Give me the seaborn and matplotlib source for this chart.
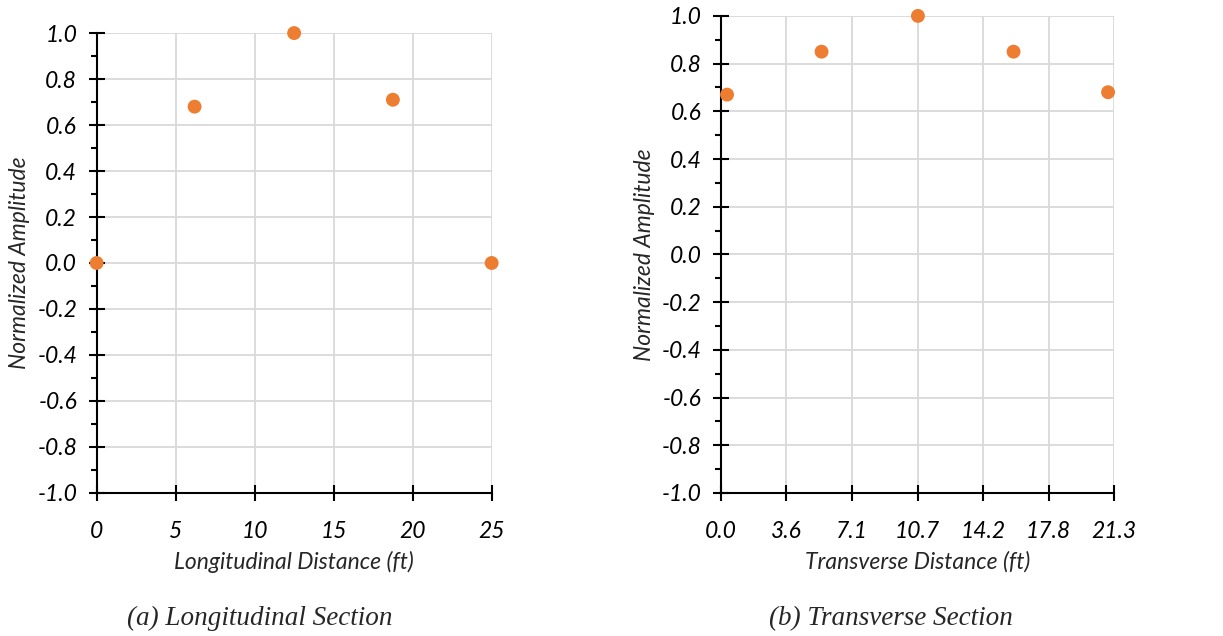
import numpy as np
import pandas as pd
import matplotlib
matplotlib.use("Agg")
import matplotlib.pyplot as plt
import seaborn as sns
from matplotlib.ticker import MultipleLocator

# Data
long_x = [0.0, 6.2, 12.5, 18.75, 25.0]
long_y = [0.0, 0.68, 1.0, 0.71, 0.0]
trans_x = [0.33, 5.45, 10.67, 15.85, 20.97]
trans_y = [0.67, 0.85, 1.0, 0.85, 0.68]

long_ticks = [0, 5, 10, 15, 20, 25]
long_ticklabels = ["0", "5", "10", "15", "20", "25"]
trans_ticks = [0.0, 3.55, 7.1, 10.65, 14.2, 17.75, 21.3]
trans_ticklabels = ["0.0", "3.6", "7.1", "10.7", "14.2", "17.8", "21.3"]
y_ticks = [-1.0, -0.8, -0.6, -0.4, -0.2, 0.0, 0.2, 0.4, 0.6, 0.8, 1.0]

sns.set_style("white")
plt.rcParams["font.family"] = ["Lato", "DejaVu Sans"]

orange = "#ED7D31"
grid_c = "#D9D9D9"

fig = plt.figure(figsize=(12.23, 6.36), dpi=100)
ax1 = fig.add_axes([0.079, 0.225, 0.323, 0.723])
ax2 = fig.add_axes([0.5895, 0.225, 0.3215, 0.75])

df1 = pd.DataFrame({"x": long_x, "y": long_y})
df2 = pd.DataFrame({"x": trans_x, "y": trans_y})


def style_axis(ax, xticks, xlabels, xlim, xlabel):
    ax.set_xlim(*xlim)
    ax.set_ylim(-1.0, 1.0)
    ax.set_xticks(xticks)
    ax.set_xticklabels(xlabels)
    ax.set_yticks(y_ticks)
    ax.set_yticklabels([f"{v:.1f}" for v in y_ticks])
    ax.yaxis.set_minor_locator(MultipleLocator(0.1))
    ax.grid(True, which="major", color=grid_c, linewidth=1.3)
    ax.set_axisbelow(True)
    for s in ["top", "right"]:
        ax.spines[s].set_visible(False)
    for s in ["left", "bottom"]:
        ax.spines[s].set_color("black")
        ax.spines[s].set_linewidth(1.5)
    ax.tick_params(axis="x", which="both", bottom=True)
    ax.tick_params(axis="y", which="both", left=True)
    ax.tick_params(axis="both", which="major", direction="inout", length=11,
                   width=1.5, color="black", labelsize=16.5, labelcolor="black")
    ax.tick_params(axis="y", which="minor", direction="out", length=4.5,
                   width=1.5, color="black")
    ax.tick_params(axis="x", which="major", pad=15)
    ax.tick_params(axis="y", which="major", pad=8.5)
    for lab in ax.get_xticklabels() + ax.get_yticklabels():
        lab.set_fontstyle("italic")
    ax.set_xlabel(xlabel, fontsize=16.5, fontstyle="italic", labelpad=6)
    ax.set_ylabel("Normalized Amplitude", fontsize=16.5, fontstyle="italic", labelpad=5)


sns.scatterplot(data=df1, x="x", y="y", ax=ax1, color=orange, s=100,
                edgecolor="none", clip_on=False, zorder=5)
sns.scatterplot(data=df2, x="x", y="y", ax=ax2, color=orange, s=100,
                edgecolor="none", clip_on=False, zorder=5)

style_axis(ax1, long_ticks, long_ticklabels, (0, 25), "Longitudinal Distance (ft)")
style_axis(ax2, trans_ticks, trans_ticklabels, (0, 21.3), "Transverse Distance (ft)")

fig.text(0.2125, 0.028, "(a) Longitudinal Section", ha="center", va="center",
         fontsize=19.5, fontstyle="italic", family="Liberation Serif")
fig.text(0.7287, 0.028, "(b) Transverse Section", ha="center", va="center",
         fontsize=19.5, fontstyle="italic", family="Liberation Serif")

fig.savefig("out.png", dpi=100)
